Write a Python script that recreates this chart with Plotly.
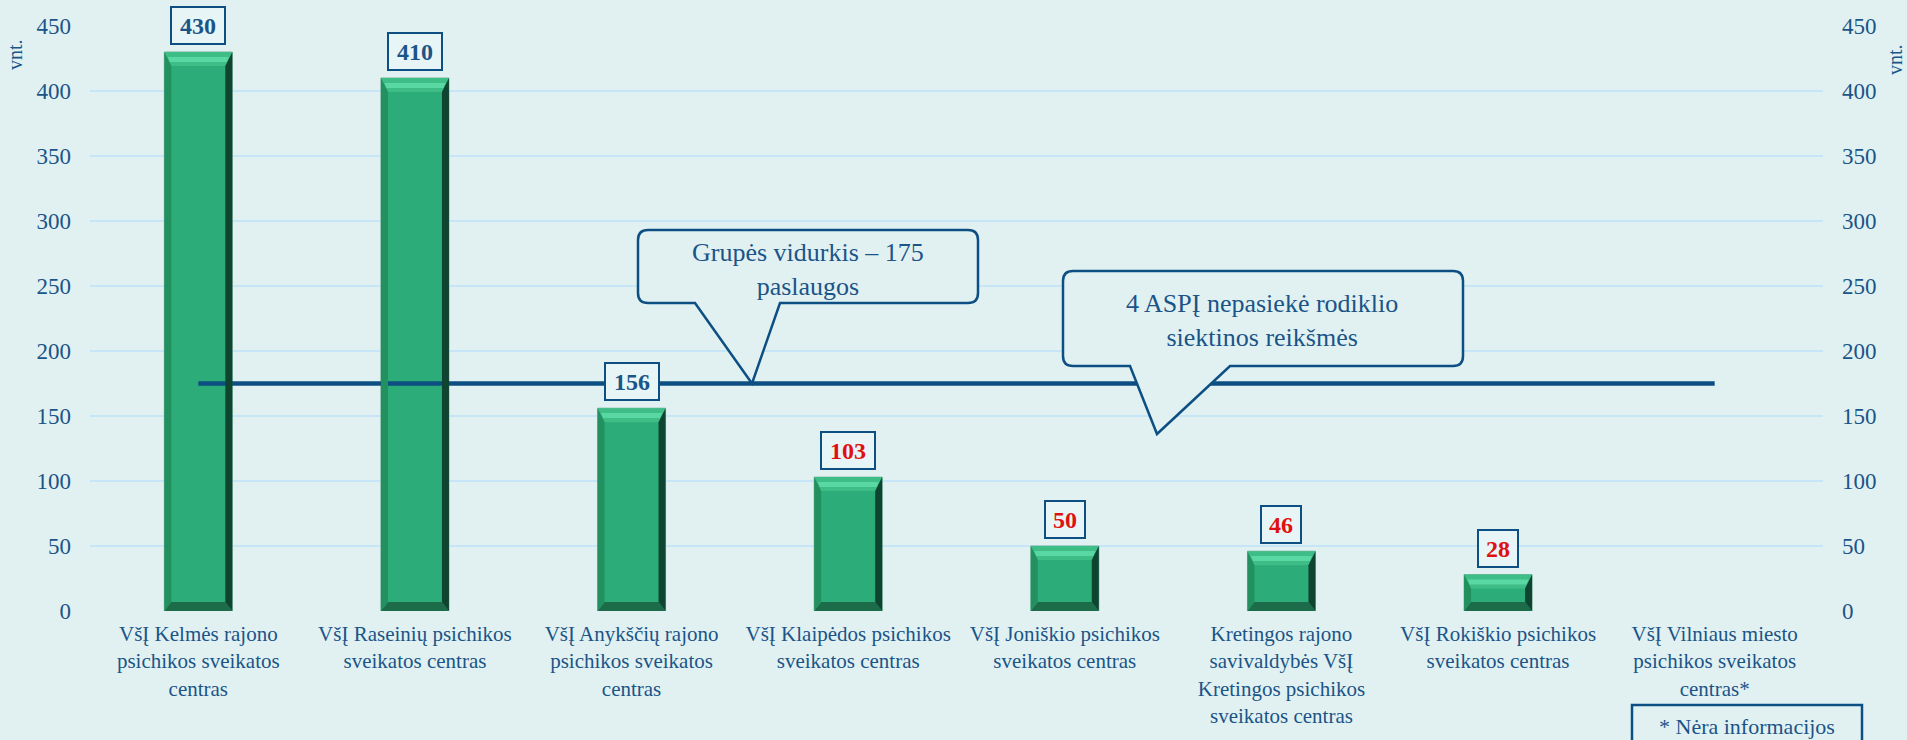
import plotly.graph_objects as go

categories = [
    "VšĮ Kelmės rajono<br>psichikos sveikatos<br>centras",
    "VšĮ Raseinių psichikos<br>sveikatos centras",
    "VšĮ Anykščių rajono<br>psichikos sveikatos<br>centras",
    "VšĮ Klaipėdos psichikos<br>sveikatos centras",
    "VšĮ Joniškio psichikos<br>sveikatos centras",
    "Kretingos rajono<br>savivaldybės VšĮ<br>Kretingos psichikos<br>sveikatos centras",
    "VšĮ Rokiškio psichikos<br>sveikatos centras",
    "VšĮ Vilniaus miesto<br>psichikos sveikatos<br>centras*",
]
values = [430, 410, 156, 103, 50, 46, 28, None]
target_met = [True, True, True, False, False, False, False, None]
group_average = 175
y_ticks = [0, 50, 100, 150, 200, 250, 300, 350, 400, 450]

callout_avg_text = "Grupės vidurkis – 175<br>paslaugos"
callout_miss_text = "4 ASPĮ nepasiekė rodiklio<br>siektinos reikšmės"
note_text = "* Nėra informacijos"
unit_text = "vnt."

# ---- styling / layout ----
W, H = 1907, 740
ML, MR, MT, MB = 90, 84, 26, 129
PW, PH = W - ML - MR, H - MT - MB
YMAX = 450
BG = "#e1f1f2"
DARK = "#0d4f82"
TXT = "#1b5487"
RED = "#e01010"
GRID = "#c6e6f8"
FONT = "Liberation Serif"
BAR_W = 0.314
n = len(categories)
xs = list(range(n))


def px2x(px):
    return (px - ML) / PW * n - 0.5


def px2y(py):
    return (MT + PH - py) / PH * YMAX


def paperx(px):
    return (px - ML) / PW


def papery(py):
    return (MT + PH - py) / PH


fig = go.Figure()

fig.add_trace(go.Bar(
    x=xs, y=values, width=BAR_W,
    marker=dict(color="#2cac79", line=dict(width=1, color="#7fb5a0")),
    hoverinfo="skip", showlegend=False,
))

fig.add_trace(go.Scatter(
    x=[xs[0], xs[-1]], y=[group_average, group_average], mode="lines",
    line=dict(color=DARK, width=4.5), hoverinfo="skip", showlegend=False,
))

# invisible trace to activate right axis
fig.add_trace(go.Scatter(x=[xs[0]], y=[0], yaxis="y2", mode="markers",
                         marker=dict(opacity=0), hoverinfo="skip", showlegend=False))

shapes = []
# bevel effect on bars
bs = 7 / PW * n          # side bevel width
bt = 14 / PH * YMAX      # top bevel height
bb = 9 / PH * YMAX       # bottom bevel height
hl = 5 / PH * YMAX       # highlight strip
for i, v in zip(xs, values):
    if v is None:
        continue
    x0, x1, y0, y1 = i - BAR_W / 2, i + BAR_W / 2, 0, v
    polys = [
        ([(x0, y1), (x1, y1), (x1 - bs, y1 - bt), (x0 + bs, y1 - bt)], "#3fbd87"),
        ([(x0 + bs * 0.5, y1 - bt * 0.35), (x1 - bs * 0.5, y1 - bt * 0.35),
          (x1 - bs * 0.8, y1 - bt * 0.35 - hl), (x0 + bs * 0.8, y1 - bt * 0.35 - hl)], "#5ad8a3"),
        ([(x0, y0), (x1, y0), (x1 - bs, y0 + bb), (x0 + bs, y0 + bb)], "#1c6b49"),
        ([(x0, y0), (x0, y1), (x0 + bs, y1 - bt), (x0 + bs, y0 + bb)], "#23905f"),
        ([(x1, y1), (x1, y0), (x1 - bs, y0 + bb), (x1 - bs, y1 - bt)], "#0f4430"),
    ]
    for pts, col in polys:
        path = "M " + " L ".join(f"{a},{b}" for a, b in pts) + " Z"
        shapes.append(dict(type="path", path=path, xref="x", yref="y",
                           fillcolor=col, line=dict(width=0), layer="above"))


def callout(L, R, T, B, pb1, pb2, tipx, tipy_data, r=10):
    X = px2x
    Y = px2y
    tx, ty = X(tipx), tipy_data
    p = (f"M {X(L + r)},{Y(T)} L {X(R - r)},{Y(T)} Q {X(R)},{Y(T)} {X(R)},{Y(T + r)} "
         f"L {X(R)},{Y(B - r)} Q {X(R)},{Y(B)} {X(R - r)},{Y(B)} "
         f"L {X(pb2)},{Y(B)} L {tx},{ty} L {X(pb1)},{Y(B)} "
         f"L {X(L + r)},{Y(B)} Q {X(L)},{Y(B)} {X(L)},{Y(B - r)} "
         f"L {X(L)},{Y(T + r)} Q {X(L)},{Y(T)} {X(L + r)},{Y(T)} Z")
    return dict(type="path", path=p, xref="x", yref="y", fillcolor=BG,
                line=dict(color=DARK, width=2.5), layer="above")


shapes.append(callout(638, 978, 230, 303, 695, 780, 752, group_average))
shapes.append(callout(1063, 1463, 271, 366, 1130, 1230, 1157, px2y(434)))

# note box
shapes.append(dict(type="rect", xref="paper", yref="paper",
                   x0=paperx(1632), x1=paperx(1862), y0=papery(705), y1=papery(770),
                   fillcolor=BG, line=dict(color=DARK, width=2.5), layer="above"))

annotations = []
for i, v, ok in zip(xs, values, target_met):
    if v is None:
        continue
    w = 50 if v >= 100 else 36
    annotations.append(dict(
        x=i, y=v, xref="x", yref="y", text=f"<b>{v}</b>", showarrow=False,
        xanchor="center", yanchor="bottom", yshift=7, width=w, height=33,
        font=dict(family=FONT, size=24, color=TXT if ok else RED),
        bgcolor="#e8f5f6", bordercolor=DARK, borderwidth=2, borderpad=1,
    ))


def text_ann(px, py, text, size, angle=0):
    return dict(x=paperx(px), y=papery(py), xref="paper", yref="paper",
                xanchor="center", yanchor="middle", text=text, showarrow=False,
                textangle=angle, font=dict(family=FONT, size=size, color=TXT))


annotations.append(text_ann(808, 269, callout_avg_text, 26))
annotations.append(text_ann(1262, 320, callout_miss_text, 26))
annotations.append(text_ann(1747, 726, note_text, 22))
annotations.append(text_ann(15, 55, unit_text, 20, -90))
annotations.append(text_ann(1895, 60, unit_text, 20, -90))

fig.update_layout(
    width=W, height=H,
    margin=dict(l=ML, r=MR, t=MT, b=MB, autoexpand=False),
    paper_bgcolor=BG, plot_bgcolor=BG,
    font=dict(family=FONT, color=TXT),
    xaxis=dict(range=[-0.5, n - 0.5], tickmode="array", tickvals=xs, ticktext=categories,
               showgrid=False, zeroline=False, showline=False, ticks="",
               tickfont=dict(family=FONT, size=21, color=TXT), ticklabelstandoff=8,
               fixedrange=True),
    yaxis=dict(range=[0, YMAX], tickmode="array", tickvals=y_ticks,
               showgrid=True, gridcolor=GRID, gridwidth=2, zeroline=False, showline=False,
               ticks="", tickfont=dict(family=FONT, size=23, color=TXT),
               ticklabelstandoff=18, fixedrange=True),
    yaxis2=dict(range=[0, YMAX], tickmode="array", tickvals=y_ticks, overlaying="y",
                side="right", showgrid=False, zeroline=False, showline=False, ticks="",
                tickfont=dict(family=FONT, size=23, color=TXT),
                ticklabelstandoff=18, fixedrange=True),
    shapes=shapes, annotations=annotations,
    showlegend=False,
)

fig.write_html("out.html", config={"displayModeBar": False},
               post_script="document.body.style.margin='0';document.body.style.overflow='hidden';")
